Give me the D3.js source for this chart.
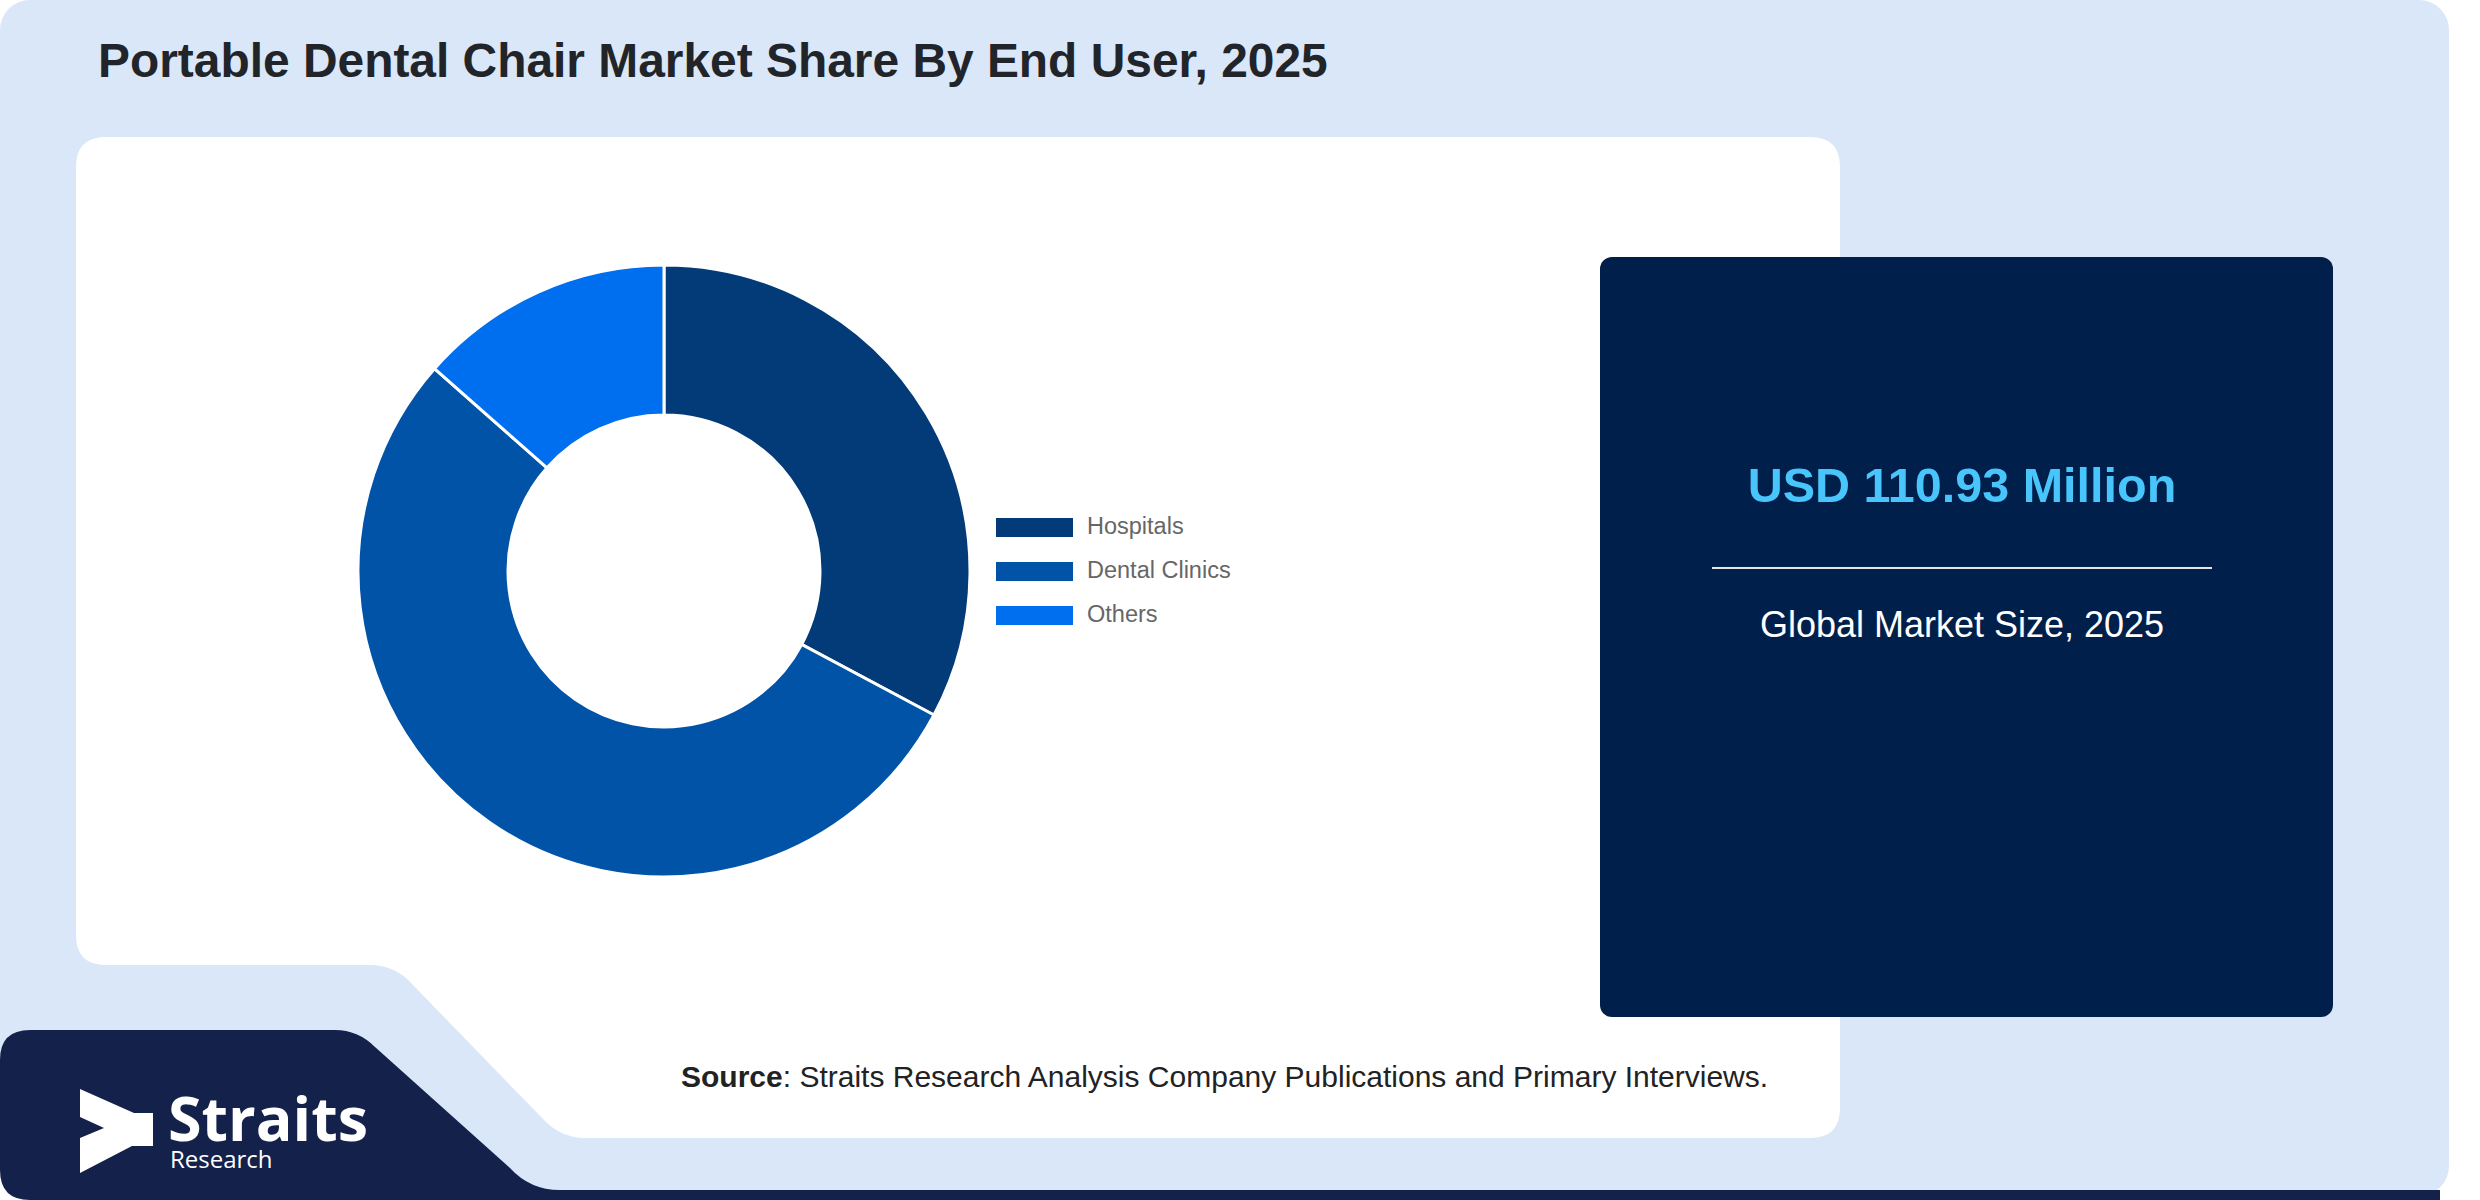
<!DOCTYPE html>
<html>
<head>
<meta charset="utf-8">
<script src="https://cdn.jsdelivr.net/npm/d3@7"></script>
<style>
  html, body { margin: 0; padding: 0; background: #fff; }
  svg { display: block; }
</style>
</head>
<body>
<div id="chart"></div>
<script>
// data
var segments = ["Hospitals", "Dental Clinics", "Others"];
var shares = [32.8, 53.7, 13.5];
var colours = ["#023b78", "#0053a6", "#006fef"];
var title = "Portable Dental Chair Market Share By End User, 2025";
var marketValue = "USD 110.93 Million";
var marketLabel = "Global Market Size, 2025";

var W = 2480, H = 1200;
var font = "'Liberation Sans', Arial, Helvetica, sans-serif";

var svg = d3.select("#chart")
  .append("svg")
  .attr("width", W)
  .attr("height", H);

// light blue card behind everything
svg.append("rect")
  .attr("x", 0).attr("y", 0)
  .attr("width", 2449).attr("height", 1196)
  .attr("rx", 30)
  .style("fill", "#dae7f8");

// white panel with the cut corner at bottom left
svg.append("path")
  .attr("d", "M106,137 L1810,137 Q1840,137 1840,167 L1840,1108 Q1840,1138 1810,1138 " +
             "L585,1138 Q562,1138 545,1121 L412,984 Q395,965 370,965 L106,965 " +
             "Q76,965 76,935 L76,167 Q76,137 106,137 Z")
  .style("fill", "#fff");

// dark logo panel + bottom strip
svg.append("path")
  .attr("d", "M0,1060 Q0,1030 30,1030 L335,1030 Q358,1030 375,1047 L510,1168 " +
             "Q530,1190 560,1190 L2440,1190 L2440,1200 L30,1200 Q0,1200 0,1170 Z")
  .style("fill", "#13214b");

// logo mark
svg.append("path")
  .attr("d", "M80,1089 L134,1113 L153,1113 L153,1146 L132,1146 L80,1173 L80,1138 L104,1128 L80,1117 Z")
  .style("fill", "#fff");
var logo = svg.append("text")
  .style("font-family", "'Open Sans', 'Noto Sans', sans-serif")
  .style("fill", "#fff");
logo.append("tspan")
  .attr("x", 168).attr("y", 1141)
  .style("font-weight", "bold")
  .style("font-size", "61px")
  .text("Straits");
logo.append("tspan")
  .attr("x", 170).attr("y", 1168)
  .style("font-size", "24px")
  .text("Research");

// title
svg.append("text")
  .attr("x", 98).attr("y", 77)
  .style("font-family", font)
  .style("font-weight", "bold")
  .style("font-size", "47.9px")
  .style("fill", "#212529")
  .text(title);

// donut
var cx = 664, cy = 571;
var pie = d3.pie().sort(null).value(function(d) { return d; });
var arc = d3.arc().innerRadius(156).outerRadius(306);

var donut = svg.append("g")
  .attr("transform", "translate(" + cx + "," + cy + ")");

donut.selectAll(".slice")
  .data(pie(shares))
  .enter().append("path")
  .attr("class", "slice")
  .attr("d", arc)
  .style("fill", function(d, i) { return colours[i]; })
  .style("stroke", "#fff")
  .style("stroke-width", 3);

// legend
var legend = svg.selectAll(".legend")
  .data(segments)
  .enter().append("g")
  .attr("class", "legend")
  .attr("transform", function(d, i) { return "translate(996," + (518 + i * 44) + ")"; });

legend.append("rect")
  .attr("width", 77).attr("height", 19)
  .style("fill", function(d, i) { return colours[i]; });

legend.append("text")
  .attr("x", 91).attr("y", 16)
  .style("font-family", font)
  .style("font-size", "23.5px")
  .style("fill", "#666")
  .text(function(d) { return d; });

// market size box
svg.append("rect")
  .attr("x", 1600).attr("y", 257)
  .attr("width", 733).attr("height", 760)
  .attr("rx", 12)
  .style("fill", "#011f4b");

svg.append("text")
  .attr("x", 1962).attr("y", 502)
  .attr("text-anchor", "middle")
  .style("font-family", font)
  .style("font-weight", "bold")
  .style("font-size", "48.5px")
  .style("fill", "#48c5fb")
  .text(marketValue);

svg.append("line")
  .attr("x1", 1712).attr("x2", 2212)
  .attr("y1", 568).attr("y2", 568)
  .style("stroke", "#e6e6e6")
  .style("stroke-width", 2);

svg.append("text")
  .attr("x", 1962).attr("y", 637)
  .attr("text-anchor", "middle")
  .style("font-family", font)
  .style("font-size", "36px")
  .style("fill", "#fff")
  .text(marketLabel);

// source line
var source = svg.append("text")
  .attr("x", 681).attr("y", 1087)
  .style("font-family", font)
  .style("font-size", "30px")
  .style("fill", "#222");
source.append("tspan").style("font-weight", "bold").text("Source");
source.append("tspan").text(": Straits Research Analysis Company Publications and Primary Interviews.");
</script>
</body>
</html>
